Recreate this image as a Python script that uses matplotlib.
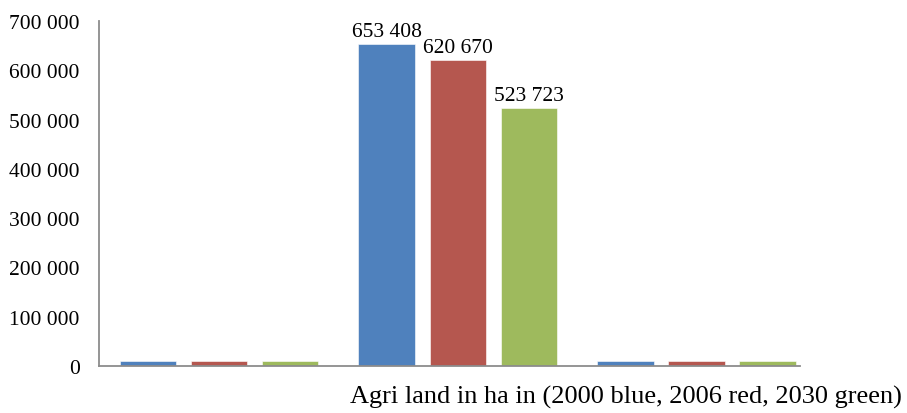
import numpy as np
import matplotlib.pyplot as plt
from matplotlib.ticker import FuncFormatter

plt.rcParams['font.family'] = ['Liberation Serif', 'DejaVu Serif']

# agricultural land (ha) per area, one bar per year
areas = ['', '', '']
ha_2000 = [10000, 653408, 10000]
ha_2006 = [10000, 620670, 10000]
ha_2030 = [10000, 523723, 10000]
labelled = [False, True, False]

years = [ha_2000, ha_2006, ha_2030]
colors = ['#4F81BD', '#B5574F', '#9EBA5D']

fig = plt.figure(figsize=(9.07, 4.14), dpi=100)
ax = fig.add_axes([99/907, 47/414, 701/907, 345/414])

x = np.arange(len(areas))
step = 0.2974
width = 0.2366
for i, (vals, c) in enumerate(zip(years, colors)):
    pos = x + (i - 1) * step
    bars = ax.bar(pos, vals, width, color=c, edgecolor='white', linewidth=0.4)
    for b, v, show in zip(bars, vals, labelled):
        if show:
            ax.text(b.get_x() + b.get_width() / 2, v + 6000,
                    f'{v:,}'.replace(',', ' '), ha='center', va='bottom',
                    fontsize=15.5)

ax.set_xlim(-0.5026, 2.4335)
ax.set_ylim(0, 700000)
ax.set_yticks(np.arange(0, 700001, 100000))
ax.yaxis.set_major_formatter(FuncFormatter(lambda v, p: f'{int(v):,}'.replace(',', ' ')))
ax.set_xticks(x)
ax.set_xticklabels(areas)
ax.tick_params(axis='both', length=0, labelsize=15.5)
ax.tick_params(axis='y', pad=14)

for s in ['top', 'right']:
    ax.spines[s].set_visible(False)
for s in ['left', 'bottom']:
    ax.spines[s].set_color('#8C8C8C')
    ax.spines[s].set_linewidth(1.3)

fig.text(0.386, 0.013, 'Agri land in ha in (2000 blue, 2006 red, 2030 green)',
         ha='left', va='bottom', fontsize=19)

fig.savefig('out.png', dpi=100)
